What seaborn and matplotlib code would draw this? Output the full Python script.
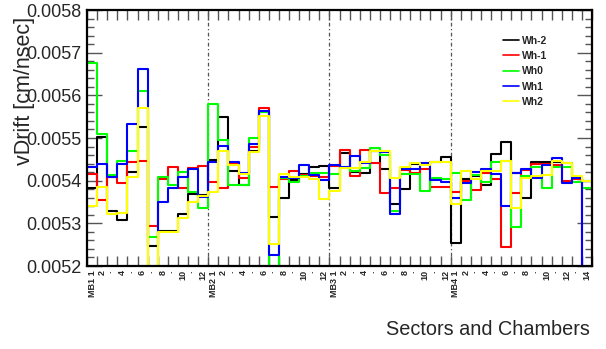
import numpy as np
import pandas as pd
import matplotlib
matplotlib.use("Agg")
import matplotlib.pyplot as plt
import seaborn as sns

# sectors per chamber (MB4 has 14)
chambers = ["MB1", "MB2", "MB3", "MB4"]
n_sectors = [12, 12, 12, 14]

wheels = ["Wh-2", "Wh-1", "Wh0", "Wh1", "Wh2"]
colors = ["#000000", "#ff0000", "#00ff00", "#0000ff", "#ffff00"]

# vDrift values [cm/nsec], MB1..MB4 one after the other
wh_m2 = [0.005383, 0.005502, 0.005330, 0.005308, 0.005421, 0.005526, 0.005247, 0.005283, 0.005282, 0.005323, 0.005368, 0.005366,
         0.005448, 0.005549, 0.005423, 0.005390, 0.005470, 0.005560, 0.005316, 0.005360, 0.005402, 0.005415, 0.005433, 0.005435,
         0.005382, 0.005464, 0.005420, 0.005417, 0.005470, 0.005427, 0.005345, 0.005380, 0.005438, 0.005438, 0.005443, 0.005456,
         0.005253, 0.005403, 0.005410, 0.005390, 0.005462, 0.005490, 0.005417, 0.005360, 0.005443, 0.005443, 0.005443, 0.005441, 0.005406, 0.005400]
wh_m1 = [0.005416, 0.005355, 0.005409, 0.005395, 0.005444, 0.005447, 0.005294, 0.005405, 0.005433, 0.005383, 0.005430, 0.005435,
         0.005398, 0.005384, 0.005440, 0.005406, 0.005480, 0.005571, 0.005386, 0.005405, 0.005423, 0.005413, 0.005410, 0.005408,
         0.005435, 0.005472, 0.005411, 0.005472, 0.005441, 0.005370, 0.005384, 0.005424, 0.005417, 0.005427, 0.005386, 0.005386,
         0.005374, 0.005400, 0.005378, 0.005417, 0.005404, 0.005245, 0.005372, 0.005424, 0.005439, 0.005439, 0.005436, 0.005400, 0.005404, 0.005100]
wh_0 = [0.005676, 0.005509, 0.005413, 0.005446, 0.005470, 0.005611, 0.005269, 0.005409, 0.005390, 0.005421, 0.005373, 0.005335,
        0.005579, 0.005495, 0.005390, 0.005390, 0.005501, 0.005560, 0.005150, 0.005407, 0.005398, 0.005411, 0.005419, 0.005419,
        0.005415, 0.005432, 0.005423, 0.005430, 0.005476, 0.005460, 0.005329, 0.005415, 0.005415, 0.005376, 0.005407, 0.005403,
        0.005417, 0.005355, 0.005413, 0.005398, 0.005443, 0.005447, 0.005292, 0.005410, 0.005433, 0.005382, 0.005432, 0.005432, 0.005398, 0.005382]
wh_1 = [0.005433, 0.005439, 0.005409, 0.005439, 0.005532, 0.005662, 0.005150, 0.005351, 0.005384, 0.005408, 0.005427, 0.005361,
        0.005444, 0.005481, 0.005444, 0.005419, 0.005485, 0.005563, 0.005226, 0.005409, 0.005406, 0.005437, 0.005413, 0.005402,
        0.005437, 0.005432, 0.005458, 0.005441, 0.005470, 0.005468, 0.005321, 0.005427, 0.005427, 0.005441, 0.005402, 0.005398,
        0.005360, 0.005394, 0.005421, 0.005427, 0.005416, 0.005341, 0.005417, 0.005427, 0.005406, 0.005436, 0.005452, 0.005394, 0.005406, 0.005100]
wh_2 = [0.005341, 0.005386, 0.005321, 0.005325, 0.005409, 0.005571, 0.005150, 0.005280, 0.005280, 0.005312, 0.005349, 0.005365,
        0.005374, 0.005470, 0.005437, 0.005416, 0.005468, 0.005552, 0.005252, 0.005415, 0.005408, 0.005408, 0.005403, 0.005357,
        0.005375, 0.005429, 0.005430, 0.005444, 0.005470, 0.005470, 0.005406, 0.005433, 0.005442, 0.005436, 0.005443, 0.005444,
        0.005345, 0.005423, 0.005403, 0.005423, 0.005423, 0.005447, 0.005337, 0.005407, 0.005410, 0.005413, 0.005447, 0.005442, 0.005412, 0.005400]
series = [wh_m2, wh_m1, wh_0, wh_1, wh_2]

# bin labels: chamber name on sector 1, even sectors numbered, odd ones as a dot
labels = []
for ch, n in zip(chambers, n_sectors):
    for s in range(1, n + 1):
        if s == 1:
            labels.append(ch + " 1")
        elif s % 2 == 0:
            labels.append(str(s))
        else:
            labels.append("\u00b7")

nbins = len(labels)
edges = np.arange(nbins + 1)
centers = edges[:-1] + 0.5

sns.set_theme(style="white")
plt.rcParams["font.family"] = ["Liberation Sans", "DejaVu Sans"]

fig = plt.figure(figsize=(6.06, 3.49), dpi=100)
ax = fig.add_axes([0.1436, 0.2378, 0.8333, 0.7335])

for name, vals, c in zip(wheels, series, colors):
    df = pd.DataFrame({"bin": centers, "v": vals})
    sns.histplot(data=df, x="bin", weights="v", bins=nbins, binrange=(0, nbins),
                 element="step", fill=False, color=c, linewidth=1.5,
                 label=name, ax=ax)

ax.set_xlim(0, nbins)
ax.set_ylim(0.0052, 0.0058)

# chamber boundaries
for b in np.cumsum(n_sectors)[:-1]:
    ax.axvline(b, color="#555555", lw=0.9, ls=(0, (3, 2, 1, 2)), zorder=0)

ax.set_xticks(edges)
ax.set_xticklabels([])
ax.set_xticks(centers, minor=True)
ax.set_xticklabels(labels, minor=True, rotation=90, fontsize=6.5,
                   fontweight="bold")
ax.tick_params(axis="x", which="major", direction="in", length=7, width=1,
               color="#555555", top=True, bottom=True)
ax.tick_params(axis="x", which="minor", length=0, pad=3)

yt = np.arange(0.0052, 0.00581, 0.0001)
ax.set_yticks(yt)
ax.set_yticklabels([f"{v:.4f}" for v in yt], fontsize=13)
ax.set_yticks(np.arange(0.0052, 0.00581, 0.00002), minor=True)
ax.tick_params(axis="y", which="major", direction="in", length=11, width=1,
               color="#555555", left=True, right=True, pad=4)
ax.tick_params(axis="y", which="minor", direction="in", length=5, width=1,
               color="#555555", left=True, right=True)

for sp in ax.spines.values():
    sp.set_linewidth(1.6)
    sp.set_color("black")

ax.set_xlabel("")
ax.set_ylabel("")
fig.text(0.040, 0.74, "vDrift [cm/nsec]", rotation=90, fontsize=15.5,
         ha="center", va="center")
fig.text(0.974, 0.055, "Sectors and Chambers", fontsize=14.3,
         ha="right", va="center")

leg = ax.legend(loc="upper left", bbox_to_anchor=(0.822, 0.912),
                bbox_transform=fig.transFigure, frameon=False,
                prop={"size": 7.5, "weight": "bold"}, handlelength=1.5,
                handletextpad=0.25, labelspacing=0.5, borderpad=0)
for h in leg.get_lines():
    h.set_linewidth(1.2)

fig.savefig("out.png", dpi=100)
